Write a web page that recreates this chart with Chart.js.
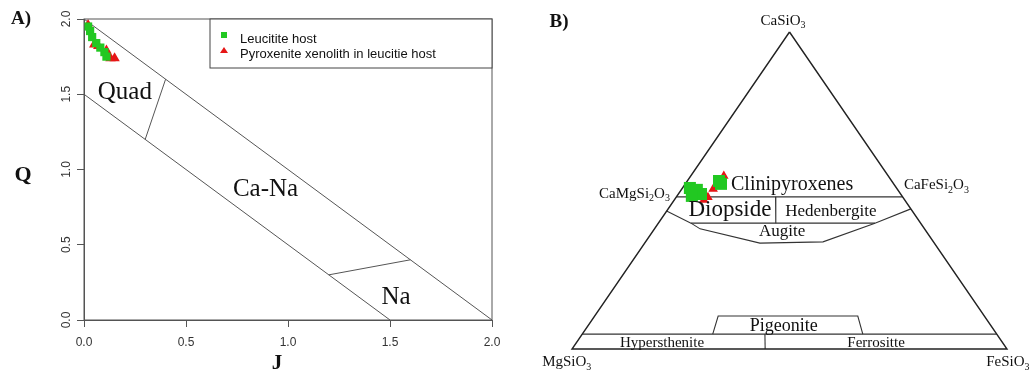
<!DOCTYPE html>
<html>
<head>
<meta charset="utf-8">
<script src="https://cdn.jsdelivr.net/npm/chart.js@4.4.0/dist/chart.umd.min.js"></script>
<style>
  body { margin: 0; background: #fff; }
  #wrap { position: relative; width: 1030px; height: 374px; }
  canvas { position: absolute; top: 0; }
</style>
</head>
<body>
<div id="wrap">
  <canvas id="qj-chart" width="515" height="374" style="left:0"></canvas>
  <canvas id="tern-chart" width="515" height="374" style="left:515px"></canvas>
</div>
<script>
// ---------- data ----------
var legendLabels = ["Leucitite host", "Pyroxenite xenolith in leucitie host"];

// panel A: Q-J diagram (Morimoto)
var hostJ = [0.02, 0.03, 0.04, 0.06, 0.08, 0.10, 0.11];
var hostQ = [1.95, 1.92, 1.88, 1.84, 1.81, 1.78, 1.75];
var xenoJ = [0.02, 0.05, 0.07, 0.11, 0.13, 0.15];
var xenoQ = [1.96, 1.83, 1.82, 1.79, 1.74, 1.74];
var qjTicks = [0, 0.5, 1, 1.5, 2];
var qjBoundaries = [            // [J, Q] end points of the field lines
  [[0, 2], [2, 0]],
  [[0, 1.5], [1.5, 0]],
  [[0.3, 1.2], [0.4, 1.6]],
  [[1.2, 0.3], [1.6, 0.4]]
];
var qjFields = ["Quad", "Ca-Na", "Na"];

// panel B: Wo-En-Fs ternary, values in %
var hostWo = [50.8, 50.2, 48.9, 48.3, 53.0, 52.1];
var hostEn = [47.5, 46.2, 45.9, 48.3, 39.7, 39.7];
var hostFs = [1.7, 3.6, 5.2, 3.4, 7.3, 8.2];
var xenoWo = [54.6, 50.5, 47.9, 47.0];
var xenoEn = [37.8, 42.3, 44.8, 46.2];
var xenoFs = [7.6, 7.2, 7.3, 6.8];
var ternOutline = [[100, 0, 0], [0, 100, 0], [0, 0, 100], [100, 0, 0]];
var ternBoundaries = [          // [Wo, En, Fs]
  [[48, 52, 0], [48, 0, 52]],
  [[48, 29.2, 22.8], [39.7, 33.3, 27]],
  [[43.5, 56.5, 0], [39.7, 52.8, 7.5], [39.7, 10.5, 49.8], [44.2, 0, 55.8]],
  [[39.7, 52.8, 7.5], [37.9, 51.6, 10.5], [33.4, 40.1, 26.5], [33.8, 25.4, 40.8], [39.7, 10.5, 49.8]],
  [[4.7, 65.3, 30], [10.4, 61.2, 28.4], [10.4, 29.1, 60.5], [4.7, 30.8, 64.5]],
  [[4.7, 95.3, 0], [4.7, 0, 95.3]],
  [[4.7, 53.3, 42], [0, 55.6, 44.4]]
];
var ternFields = ["Clinipyroxenes", "Diopside", "Hedenbergite", "Augite", "Pigeonite", "Hypersthenite", "Ferrositte"];
var ternApices = ["CaSiO3", "CaMgSi2O3", "CaFeSi2O3", "MgSiO3", "FeSiO3"];

// ---------- helpers ----------
var GREEN = "rgb(34,200,34)";
var RED = "rgb(230,22,22)";
var SERIF = "'Liberation Serif', 'Times New Roman', serif";
Chart.defaults.font.family = "'Liberation Sans', Arial, sans-serif";

function pairs(xs, ys) {
  return xs.map(function (x, i) { return { x: x, y: ys[i] }; });
}
function tern(p) {               // [Wo, En, Fs] -> x/y of the drawing plane
  var s = p[0] + p[1] + p[2];
  return { x: (p[2] + p[0] / 2) / s, y: p[0] / s };
}
function lineSet(points, color, width) {
  return {
    data: points, showLine: true, pointRadius: 0, borderColor: color,
    borderWidth: width, fill: false, order: 10, clip: false
  };
}
// draws chemical formula with digits as subscripts
function drawFormula(ctx, text, x, y, align, size) {
  var parts = text.match(/\d+|\D+/g);
  var main = size + "px " + SERIF, sub = Math.round(size * 0.66) + "px " + SERIF;
  var w = 0;
  parts.forEach(function (p) { ctx.font = /\d/.test(p) ? sub : main; w += ctx.measureText(p).width; });
  var cx = align === "right" ? x - w : align === "center" ? x - w / 2 : x;
  ctx.textAlign = "left";
  ctx.textBaseline = "middle";
  parts.forEach(function (p) {
    var isSub = /\d/.test(p);
    ctx.font = isSub ? sub : main;
    ctx.fillText(p, cx, isSub ? y + size * 0.32 : y);
    cx += ctx.measureText(p).width;
  });
}
function label(ctx, text, x, y, font) {
  ctx.font = font;
  ctx.textAlign = "center";
  ctx.textBaseline = "middle";
  ctx.fillText(text, x, y);
}

// ---------- panel A ----------
var qjDecor = {
  id: "qjDecor",
  afterDraw: function (chart) {
    var ctx = chart.ctx, a = chart.chartArea, sx = chart.scales.x, sy = chart.scales.y;
    ctx.save();
    ctx.strokeStyle = "#555";
    ctx.lineWidth = 1;
    ctx.strokeRect(a.left, a.top, a.right - a.left, a.bottom - a.top);

    ctx.fillStyle = "#111";
    var spots = [[0.2, 1.51], [0.89, 0.865], [1.53, 0.153]];
    qjFields.forEach(function (t, i) {
      label(ctx, t, sx.getPixelForValue(spots[i][0]), sy.getPixelForValue(spots[i][1]), "25px " + SERIF);
    });
    label(ctx, "Q", 23, 175, "bold 22px " + SERIF);
    label(ctx, "J", 277, 364, "bold 21px " + SERIF);
    label(ctx, "A)", 21, 19, "bold 19px " + SERIF);

    // legend box in the top-right corner
    var lw = 282, lh = 49, lx = a.right - lw, ly = a.top;
    ctx.fillStyle = "#fff";
    ctx.fillRect(lx, ly, lw, lh);
    ctx.strokeStyle = "#444";
    ctx.strokeRect(lx, ly, lw, lh);
    ctx.fillStyle = GREEN;
    ctx.fillRect(lx + 11, ly + 13, 6, 6);
    ctx.fillStyle = RED;
    ctx.beginPath();
    ctx.moveTo(lx + 14, ly + 28);
    ctx.lineTo(lx + 18, ly + 34);
    ctx.lineTo(lx + 10, ly + 34);
    ctx.closePath();
    ctx.fill();
    ctx.fillStyle = "#111";
    ctx.font = "13px 'Liberation Sans', Arial, sans-serif";
    ctx.textAlign = "left";
    ctx.textBaseline = "alphabetic";
    ctx.fillText(legendLabels[0], lx + 30, ly + 24);
    ctx.fillText(legendLabels[1], lx + 30, ly + 39);
    ctx.restore();
  }
};

var qjDatasets = [
  { label: legendLabels[0], data: pairs(hostJ, hostQ), pointStyle: "rect", pointRadius: 5.8,
    backgroundColor: GREEN, borderWidth: 0, order: 0 },
  { label: legendLabels[1], data: pairs(xenoJ, xenoQ), pointStyle: "triangle", pointRadius: 6,
    backgroundColor: RED, borderWidth: 0, order: 1 }
];
qjBoundaries.forEach(function (b) {
  qjDatasets.push(lineSet(b.map(function (p) { return { x: p[0], y: p[1] }; }), "#555", 1));
});

var tickFmt = function (v) { return qjTicks.indexOf(v) >= 0 ? v.toFixed(1) : ""; };
var axisGrid = { drawOnChartArea: false, drawTicks: true, tickLength: 7, color: "#555" };

new Chart(document.getElementById("qj-chart"), {
  type: "scatter",
  data: { datasets: qjDatasets },
  options: {
    responsive: false,
    animation: false,
    events: [],
    layout: { padding: { left: 0, right: 23, top: 19, bottom: 14 } },
    plugins: { legend: { display: false }, tooltip: { enabled: false } },
    scales: {
      x: {
        type: "linear", min: 0, max: 2,
        ticks: { stepSize: 0.5, callback: tickFmt, color: "#333", font: { size: 12 }, padding: 8, maxRotation: 0 },
        grid: axisGrid, border: { color: "#555" },
        afterFit: function (s) { s.height = 40; }
      },
      y: {
        type: "linear", min: 0, max: 2,
        ticks: { stepSize: 0.5, callback: tickFmt, color: "#333", font: { size: 12 }, padding: 2,
                 minRotation: 90, maxRotation: 90, crossAlign: "center" },
        grid: axisGrid, border: { color: "#555" },
        afterFit: function (s) { s.width = 84; }
      }
    }
  },
  plugins: [qjDecor]
});

// ---------- panel B ----------
var ternDecor = {
  id: "ternDecor",
  afterDraw: function (chart) {
    var ctx = chart.ctx, sx = chart.scales.x, sy = chart.scales.y;
    var X = function (v) { return sx.getPixelForValue(v); };
    var Y = function (v) { return sy.getPixelForValue(v); };
    ctx.save();
    ctx.fillStyle = "#111";
    var spots = [[0.506, 0.517, 20], [0.363, 0.438, 23], [0.595, 0.435, 17], [0.483, 0.369, 17],
                 [0.487, 0.073, 18], [0.207, 0.019, 15], [0.699, 0.019, 15]];
    ternFields.forEach(function (t, i) {
      var s = spots[i];
      label(ctx, t, X(s[0]), Y(s[1]), s[2] + "px " + SERIF);
    });
    drawFormula(ctx, ternApices[0], X(0.485), Y(1.035), "center", 15);
    drawFormula(ctx, ternApices[1], X(0.225), Y(0.489), "right", 15);
    drawFormula(ctx, ternApices[2], X(0.763), Y(0.517), "left", 15);
    drawFormula(ctx, ternApices[3], X(-0.012), Y(-0.042), "center", 15);
    drawFormula(ctx, ternApices[4], X(1.002), Y(-0.042), "center", 15);
    label(ctx, "B)", 44, 22, "bold 19px " + SERIF);
    ctx.restore();
  }
};

function ternPoints(wo, en, fs) {
  return wo.map(function (w, i) { return tern([w, en[i], fs[i]]); });
}
var ternDatasets = [
  { label: legendLabels[0], data: ternPoints(hostWo, hostEn, hostFs), pointStyle: "rect", pointRadius: 8.5,
    backgroundColor: GREEN, borderWidth: 0, order: 0 },
  { label: legendLabels[1], data: ternPoints(xenoWo, xenoEn, xenoFs), pointStyle: "triangle", pointRadius: 5.5,
    backgroundColor: RED, borderWidth: 0, order: 1 },
  lineSet(ternOutline.map(tern), "#222", 1.4)
];
ternBoundaries.forEach(function (b) {
  ternDatasets.push(lineSet(b.map(tern), "#333", 1.1));
});

new Chart(document.getElementById("tern-chart"), {
  type: "scatter",
  data: { datasets: ternDatasets },
  options: {
    responsive: false,
    animation: false,
    events: [],
    layout: { padding: { left: 57, right: 23, top: 32, bottom: 25 } },
    plugins: { legend: { display: false }, tooltip: { enabled: false } },
    scales: {
      x: { type: "linear", min: 0, max: 1, display: false },
      y: { type: "linear", min: 0, max: 1, display: false }
    }
  },
  plugins: [ternDecor]
});
</script>
</body>
</html>
